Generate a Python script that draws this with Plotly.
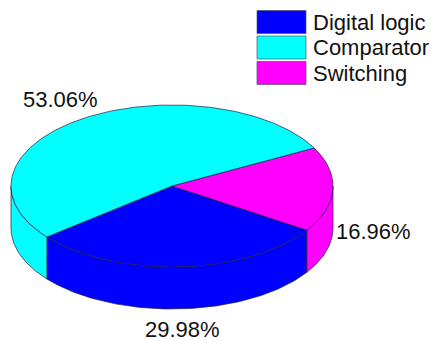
import numpy as np
import plotly.graph_objects as go

categories = ["Digital logic", "Comparator", "Switching"]
values = [29.98, 53.06, 16.96]
colors = ["#0000ff", "#00ffff", "#ff00ff"]
draw_order = ["Digital logic", "Switching", "Comparator"]
label_pos = {"Digital logic": (182, 329), "Comparator": (60, 99), "Switching": (373, 231)}

W, H = 431, 341
CX, CY, RX, RY, DEPTH = 172, 186, 161, 81, 42
START = 141.0


def arc(a0, a1, dy=0.0):
    n = max(2, int(abs(a1 - a0)) + 2)
    t = np.radians(np.linspace(a0, a1, n))
    return CX + RX * np.cos(t), CY + dy + RY * np.sin(t)


fig = go.Figure()
LINE = dict(color="#202040", width=0.7)
val = dict(zip(categories, values))
col = dict(zip(categories, colors))
total = sum(values)

spans = []
a = START
for name in draw_order:
    b = a - val[name] / total * 360
    spans.append((name, a, b))
    a = b

# side walls (front half of the ellipse only)
for name, a0, a1 in spans:
    for shift in (0, -360):
        hi, lo = min(a0 - shift, 180), max(a1 - shift, 0)
        if hi > lo:
            xt, yt = arc(hi, lo)
            xb, yb = arc(lo, hi, DEPTH)
            fig.add_trace(go.Scatter(
                x=np.r_[xt, xb, xt[0]], y=np.r_[yt, yb, yt[0]],
                mode="lines", fill="toself", fillcolor=col[name], line=LINE,
                name=name, hoverinfo="name", showlegend=False))

# top faces
for name, a0, a1 in spans:
    xt, yt = arc(a0, a1)
    fig.add_trace(go.Scatter(
        x=np.r_[CX, xt, CX], y=np.r_[CY, yt, CY],
        mode="lines", fill="toself", fillcolor=col[name], line=LINE,
        name=name, hoverinfo="name", showlegend=False))

FONT = dict(family="Liberation Sans, Arial, sans-serif", size=22, color="#111111")
ann = []
for name in categories:
    x, y = label_pos[name]
    ann.append(dict(x=x, y=y, text=f"{val[name]:.2f}%", showarrow=False,
                    xref="x", yref="y", font=FONT, xanchor="center", yanchor="middle"))

shapes = []
legend_y = [22, 47.5, 73]
for name, y in zip(categories, legend_y):
    shapes.append(dict(type="rect", x0=257, x1=306, y0=y - 11.5, y1=y + 11.5,
                       xref="x", yref="y", fillcolor=col[name],
                       line=dict(color="#505070", width=0.7)))
    ann.append(dict(x=311, y=y, text=name, showarrow=False, xref="x", yref="y",
                    font=FONT, xanchor="left", yanchor="middle"))

fig.update_layout(
    width=W, height=H, margin=dict(l=0, r=0, t=0, b=0),
    paper_bgcolor="white", plot_bgcolor="white", showlegend=False,
    xaxis=dict(range=[0, W], visible=False, fixedrange=True),
    yaxis=dict(range=[H, 0], visible=False, fixedrange=True),
    annotations=ann, shapes=shapes)

fig.write_html("out.html", config={"displayModeBar": False},
               post_script="document.body.style.margin='0';document.body.style.overflow='hidden';")
